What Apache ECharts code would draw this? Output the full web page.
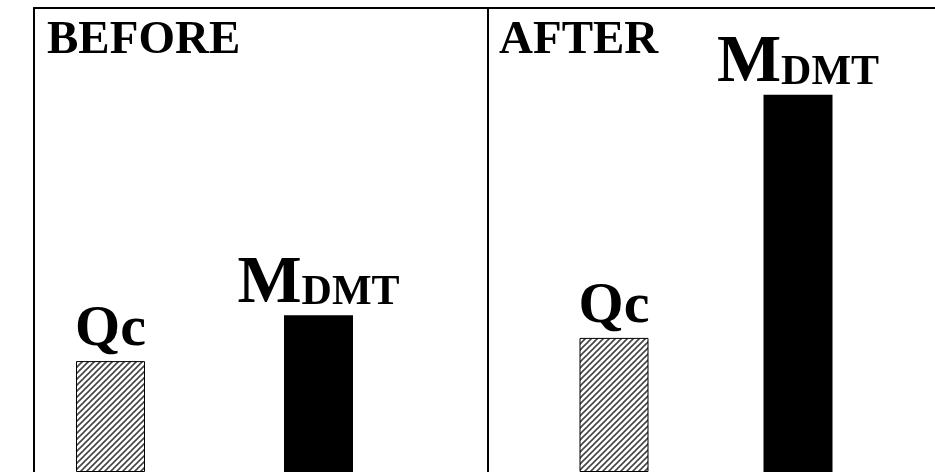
<!DOCTYPE html>
<html>
<head>
<meta charset="utf-8">
<script src="https://cdn.jsdelivr.net/npm/echarts@6/dist/echarts.min.js"></script>
<style>
  html, body { margin: 0; padding: 0; background: #fff; }
  #chart { width: 935px; height: 472px; }
</style>
</head>
<body>
<div id="chart"></div>
<script>
// data (arbitrary units, 0..10 over the panel height)
const categories = ['Qc', 'MDMT']
const panelTitles = ['BEFORE', 'AFTER']
const beforeValues = [2.39, 3.38]
const afterValues = [2.89, 8.13]

const FONT = 'Liberation Serif'

// hatch pattern for Qc bars
function makeHatch() {
  const c = document.createElement('canvas')
  c.width = 6
  c.height = 6
  const ctx = c.getContext('2d')
  ctx.fillStyle = '#fff'
  ctx.fillRect(0, 0, 6, 6)
  ctx.strokeStyle = '#444'
  ctx.lineWidth = 1.6
  ctx.beginPath()
  ctx.moveTo(-1, 7); ctx.lineTo(7, -1)
  ctx.moveTo(-1, 1); ctx.lineTo(1, -1)
  ctx.moveTo(5, 7); ctx.lineTo(7, 5)
  ctx.stroke()
  return c
}
const hatch = { image: makeHatch(), repeat: 'repeat' }

const barStyles = [
  { color: hatch, borderColor: '#000', borderWidth: 1 },
  { color: '#000' }
]
const labelDistances = [1, -3]

function barData(values) {
  return values.map((v, i) => ({
    value: v,
    itemStyle: barStyles[i],
    label: { distance: labelDistances[i] }
  }))
}

const labelRich = {
  q: { fontFamily: FONT, fontWeight: 'bold', fontSize: 58, color: '#000', lineHeight: 60 },
  m: { fontFamily: FONT, fontWeight: 'bold', fontSize: 68, color: '#000', lineHeight: 70, verticalAlign: 'bottom' },
  s: { fontFamily: FONT, fontWeight: 'bold', fontSize: 42, color: '#000', lineHeight: 70, verticalAlign: 'bottom', padding: [0, 0, 4, 0] }
}

const barLabel = {
  show: true,
  position: 'top',
  formatter: p => p.name === 'Qc' ? '{q|Qc}' : '{m|M}{s|DMT}',
  rich: labelRich
}

const chart = echarts.init(document.getElementById('chart'))

const frameLine = { show: true, onZero: false, lineStyle: { color: '#000', width: 2 } }
const frameX = i => ({
  type: 'value', gridIndex: i, position: 'top',
  axisLine: frameLine, axisTick: { show: false }, axisLabel: { show: false }, splitLine: { show: false }
})
const frameY = i => ({
  type: 'value', gridIndex: i, position: 'left',
  axisLine: frameLine, axisTick: { show: false }, axisLabel: { show: false }, splitLine: { show: false }
})
const hiddenCat = i => ({ type: 'category', gridIndex: i, data: categories, show: false })
const hiddenVal = i => ({ type: 'value', gridIndex: i, min: 0, max: 10, show: false })

chart.setOption({
  animation: false,
  backgroundColor: '#fff',
  title: panelTitles.map((t, i) => ({
    text: t,
    left: i === 0 ? 47 : 499,
    top: 17,
    padding: 0,
    textStyle: { fontFamily: FONT, fontWeight: 'bold', fontSize: 47, color: '#000' }
  })),
  grid: [
    // panel frames: only top and left edges drawn
    { left: 34, top: 8, width: 454, bottom: 0 },
    { left: 488, top: 8, right: 0, bottom: 0 },
    // bar areas, baseline at the bottom of the picture
    { left: 6.5, top: 8, width: 416, bottom: 0 },
    { left: 522, top: 8, width: 368, bottom: 0 }
  ],
  xAxis: [frameX(0), frameX(1), hiddenCat(2), hiddenCat(3)],
  yAxis: [frameY(0), frameY(1), hiddenVal(2), hiddenVal(3)],
  series: [
    {
      type: 'bar', xAxisIndex: 2, yAxisIndex: 2,
      barWidth: 69,
      data: barData(beforeValues),
      label: barLabel
    },
    {
      type: 'bar', xAxisIndex: 3, yAxisIndex: 3,
      barWidth: 69,
      data: barData(afterValues),
      label: barLabel
    }
  ]
})

window.addEventListener('resize', () => {
  chart.resize()
})
</script>
</body>
</html>
